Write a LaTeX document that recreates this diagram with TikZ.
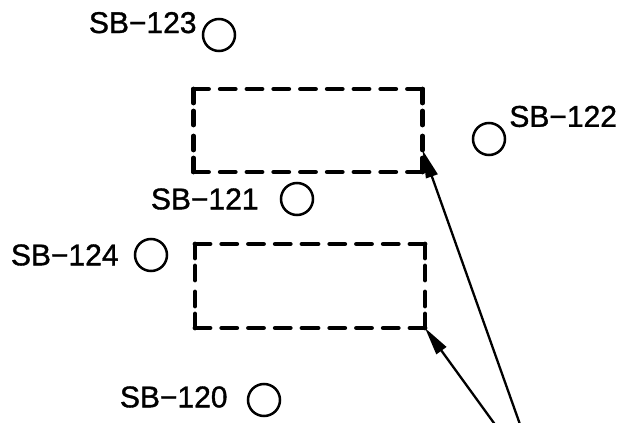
\documentclass[tikz,border=0pt]{standalone}
\usepackage{fontspec}
\setmainfont{Liberation Sans}
\usetikzlibrary{positioning,arrows.meta}

\tikzset{
	borehole/.style={circle, draw, line width=2.5pt, minimum size=32pt, inner sep=0pt},
	tag/.style={font=\fontsize{30}{30}\selectfont\addfontfeature{FakeBold=1.2}, inner sep=0pt},
	site box/.style={rectangle, inner sep=0pt, outer sep=0pt, minimum width=229pt, minimum height=83pt},
	site outline/.style={line width=4.8pt, line cap=round},
	pointer/.style={line width=2.3pt, -{Triangle[length=28pt,width=12pt]}}
}

\begin{document}
\begin{tikzpicture}[x=1pt,y=-1pt]
\clip (0,0) rectangle (630,423);

% boreholes
\node[borehole] (sb123) at (219,35) {};
\node[borehole] (sb122) at (489,139) {};
\node[borehole] (sb121) at (297,199) {};
\node[borehole] (sb124) at (151,255) {};
\node[borehole] (sb120) at (264,400) {};

% borehole names
\node[tag, anchor=base east] (t123) at ([shift={(-5,-2)}]sb123.west) {SB−123};
\node[tag, anchor=base west] (t122) at ([xshift=8pt]sb122.north east) {SB−122};
\node[tag, left=21pt of sb121] (t121) {SB−121};
\node[tag, left=15pt of sb124] (t124) {SB−124};
\node[tag, left=19pt of sb120, yshift=3pt] (t120) {SB−120};

% dashed areas
\node[site box] (upper box) at (308,130.5) {};
\node[site box, below=72pt of upper box, xshift=2pt, minimum width=230pt, minimum height=84pt] (lower box) {};
\foreach \b in {upper box,lower box} {
	\draw[site outline, dash pattern=on 15pt off 11.75pt]
	  (\b.north west) -- (\b.north)  (\b.north east) -- (\b.north)
	  (\b.south west) -- (\b.south)  (\b.south east) -- (\b.south);
	\draw[site outline, dash pattern=on 14pt off 8pt]
	  (\b.north west) -- (\b.west)   (\b.south west) -- (\b.west)
	  (\b.north east) -- (\b.east)   (\b.south east) -- (\b.east);
}

% pointers
\coordinate (foot a) at (522,430);
\coordinate (foot b) at (499,430);
\draw[pointer] (foot a) -- ([yshift=22pt]upper box.south east);
\draw[pointer] (foot b) -- (lower box.south east);

\end{tikzpicture}
\end{document}
